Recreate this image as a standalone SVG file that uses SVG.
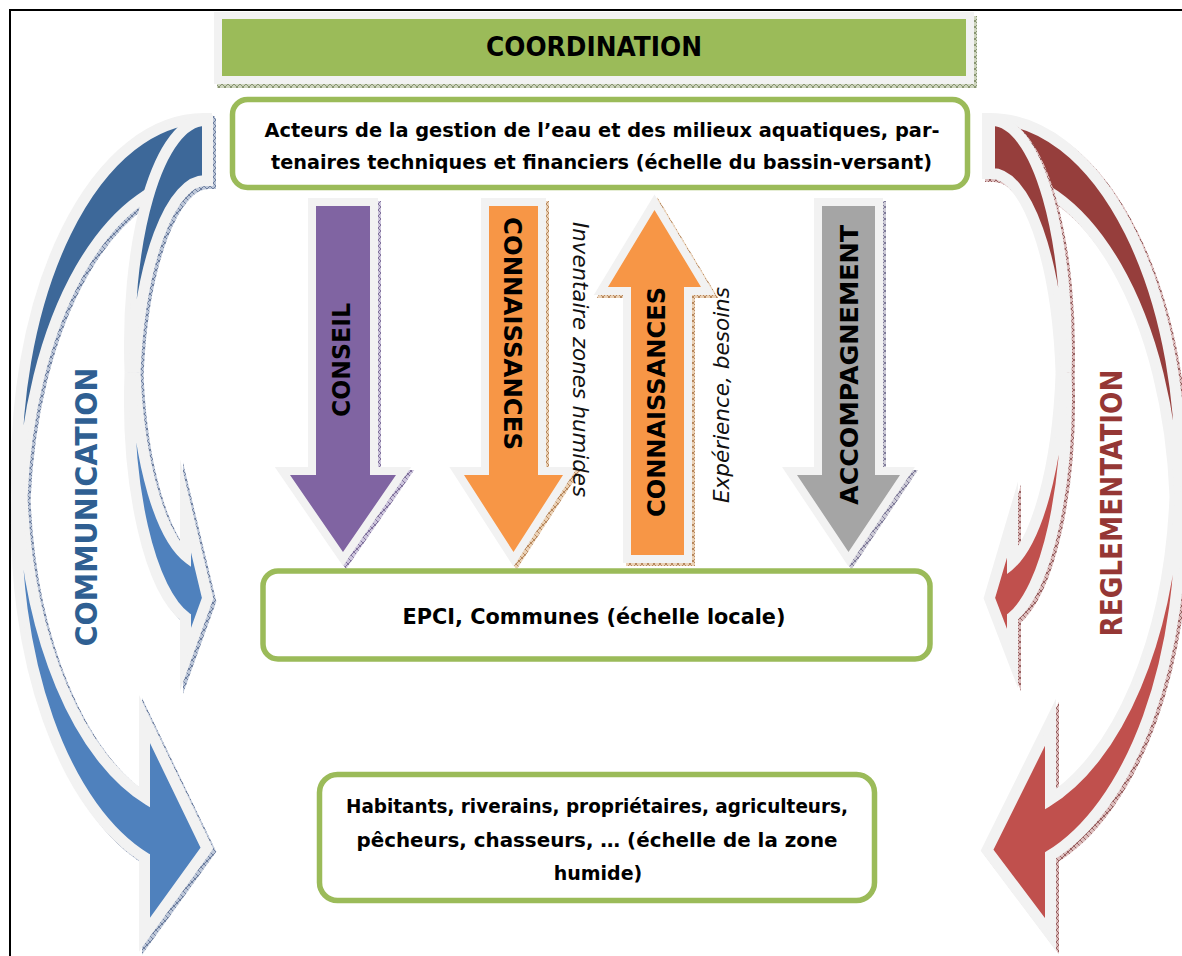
<svg xmlns="http://www.w3.org/2000/svg" width="1182" height="956" viewBox="0 0 1182 956">
<defs>
<style>
.ol{fill:#f2f2f2;stroke:#f2f2f2;stroke-width:16;stroke-linejoin:miter;stroke-miterlimit:20}
.tp{stroke:#f2f2f2;stroke-width:6;stroke-linejoin:miter;stroke-miterlimit:20}
.sh{stroke-width:16;stroke-linejoin:miter;stroke-miterlimit:20}
.box{fill:#ffffff;stroke:#9bbb59;stroke-width:5.5}
.bt{font-family:"DejaVu Sans","Liberation Sans",sans-serif;font-weight:bold;fill:#000000;text-anchor:middle}
.it{font-family:"DejaVu Sans","Liberation Sans",sans-serif;font-style:italic;fill:#111111;text-anchor:middle}
</style>
<pattern id="hb" width="6" height="6" patternUnits="userSpaceOnUse"><rect width="6" height="6" fill="#bcc6d8"/><path d="M0,0L6,6M6,0L0,6" stroke="#4a5f85" stroke-width="0.7"/></pattern>
<pattern id="hr" width="6" height="6" patternUnits="userSpaceOnUse"><rect width="6" height="6" fill="#dcbcbc"/><path d="M0,0L6,6M6,0L0,6" stroke="#7a3a3a" stroke-width="0.7"/></pattern>
<pattern id="ho" width="6" height="6" patternUnits="userSpaceOnUse"><rect width="6" height="6" fill="#ead0b4"/><path d="M0,0L6,6M6,0L0,6" stroke="#a0683a" stroke-width="0.7"/></pattern>
<pattern id="hp" width="6" height="6" patternUnits="userSpaceOnUse"><rect width="6" height="6" fill="#ccc4dc"/><path d="M0,0L6,6M6,0L0,6" stroke="#5e4d80" stroke-width="0.7"/></pattern>
<pattern id="hg" width="6" height="6" patternUnits="userSpaceOnUse"><rect width="6" height="6" fill="#cccad6"/><path d="M0,0L6,6M6,0L0,6" stroke="#5e5a80" stroke-width="0.7"/></pattern>
<pattern id="hgr" width="6" height="6" patternUnits="userSpaceOnUse"><rect width="6" height="6" fill="#cdd4bd"/><path d="M0,0L6,6M6,0L0,6" stroke="#6a7a50" stroke-width="0.7"/></pattern>
</defs>

<rect width="1182" height="956" fill="#ffffff"/>
<g id="frame"><path d="M10,956 V10 H1182" fill="none" stroke="#000000" stroke-width="2"/></g>

<g id="connectors">
  <!-- COMMUNICATION outer (B) -->
  <g id="communication-outer">
    <g class="sh" transform="translate(3,3)" fill="url(#hb)" stroke="url(#hb)">
      <path d="M204,121 A185,349 0 0 0 19.55,497 A185,349 0 0 1 204,175 Z"/>
      <path d="M19.55,497 A185,349 0 0 0 147,856 L147,927 L204,848 L147,730 L147,802 A185,349 0 0 1 19.55,497 Z"/>
    </g>
    <path class="ol" d="M204,121 A185,349 0 0 0 19.55,497 A185,349 0 0 1 204,175 Z"/>
    <path class="ol" d="M19.55,497 A185,349 0 0 0 147,856 L147,927 L204,848 L147,730 L147,802 A185,349 0 0 1 19.55,497 Z"/>
    <path class="tp" fill="#3d6899" d="M204,121 A185,349 0 0 0 19.55,497 A185,349 0 0 1 204,175 Z"/>
    <path class="tp" fill="#4f81bd" d="M19.55,497 A185,349 0 0 0 147,856 L147,927 L204,848 L147,730 L147,802 A185,349 0 0 1 19.55,497 Z"/>
  </g>
  <!-- COMMUNICATION inner (A) -->
  <g id="communication-inner">
    <g class="sh" transform="translate(3,3)" fill="url(#hb)" stroke="url(#hb)">
      <path d="M205,123 A73,222 0 0 0 132.56,372.5 A73,222 0 0 1 205,178 Z"/>
      <path d="M132.56,372.5 A73,222 0 0 0 188,615.9 L188,645 L205,598 L188,527 L188,560.9 A73,222 0 0 1 132.56,372.5 Z"/>
    </g>
    <path class="ol" d="M205,123 A73,222 0 0 0 132.56,372.5 A73,222 0 0 1 205,178 Z"/>
    <path class="ol" d="M132.56,372.5 A73,222 0 0 0 188,615.9 L188,645 L205,598 L188,527 L188,560.9 A73,222 0 0 1 132.56,372.5 Z"/>
    <path class="tp" fill="#3d6899" d="M205,123 A73,222 0 0 0 132.56,372.5 A73,222 0 0 1 205,178 Z"/>
    <path class="tp" fill="#4f81bd" d="M132.56,372.5 A73,222 0 0 0 188,615.9 L188,645 L205,598 L188,527 L188,560.9 A73,222 0 0 1 132.56,372.5 Z"/>
  </g>
  <text class="bt" transform="translate(97,507) rotate(-90)" font-size="31" textLength="279" lengthAdjust="spacingAndGlyphs" style="fill:#2f5f92">COMMUNICATION</text>

  <!-- REGLEMENTATION outer (D) -->
  <g id="reglementation-outer">
    <g class="sh" transform="translate(3,3)" fill="url(#hr)" stroke="url(#hr)">
      <path d="M990,121 A188,350 0 0 1 1177.52,496 A188,350 0 0 0 990,171 Z"/>
      <path d="M1177.52,496 A188,350 0 0 1 1048,853.9 L1048,927 L990,850 L1048,733 L1048,803.9 A188,350 0 0 0 1177.52,496 Z"/>
    </g>
    <path class="ol" d="M990,121 A188,350 0 0 1 1177.52,496 A188,350 0 0 0 990,171 Z"/>
    <path class="ol" d="M1177.52,496 A188,350 0 0 1 1048,853.9 L1048,927 L990,850 L1048,733 L1048,803.9 A188,350 0 0 0 1177.52,496 Z"/>
    <path class="tp" fill="#963e3c" d="M990,121 A188,350 0 0 1 1177.52,496 A188,350 0 0 0 990,171 Z"/>
    <path class="tp" fill="#c0504d" d="M1177.52,496 A188,350 0 0 1 1048,853.9 L1048,927 L990,850 L1048,733 L1048,803.9 A188,350 0 0 0 1177.52,496 Z"/>
  </g>
  <!-- REGLEMENTATION inner (C) -->
  <g id="reglementation-inner">
    <g class="sh" transform="translate(3,3)" fill="url(#hr)" stroke="url(#hr)">
      <path d="M992,123 A72,226 0 0 1 1063.59,373 A72,226 0 0 0 992,171 Z"/>
      <path d="M1063.59,373 A72,226 0 0 1 1010,615.8 L1010,645 L992,598 L1010,537 L1010,567.8 A72,226 0 0 0 1063.59,373 Z"/>
    </g>
    <path class="ol" d="M992,123 A72,226 0 0 1 1063.59,373 A72,226 0 0 0 992,171 Z"/>
    <path class="ol" d="M1063.59,373 A72,226 0 0 1 1010,615.8 L1010,645 L992,598 L1010,537 L1010,567.8 A72,226 0 0 0 1063.59,373 Z"/>
    <path class="tp" fill="#963e3c" d="M992,123 A72,226 0 0 1 1063.59,373 A72,226 0 0 0 992,171 Z"/>
    <path class="tp" fill="#c0504d" d="M1063.59,373 A72,226 0 0 1 1010,615.8 L1010,645 L992,598 L1010,537 L1010,567.8 A72,226 0 0 0 1063.59,373 Z"/>
  </g>
  <text class="bt" transform="translate(1122,503) rotate(-90)" font-size="31" textLength="267" lengthAdjust="spacingAndGlyphs" style="fill:#953735">REGLEMENTATION</text>

  <!-- CONSEIL -->
  <g id="arrow-conseil">
    <path class="sh" transform="translate(3,3)" fill="url(#hp)" stroke="url(#hp)" d="M316,206 H370 V475 H396 L343,552 L290,475 H316 Z"/>
    <path class="ol" d="M316,206 H370 V475 H396 L343,552 L290,475 H316 Z"/>
    <path fill="#8064a2" d="M316,206 H370 V475 H396 L343,552 L290,475 H316 Z"/>
    <text class="bt" transform="translate(350,360) rotate(-90)" font-size="24" textLength="114" lengthAdjust="spacingAndGlyphs">CONSEIL</text>
  </g>
  <!-- CONNAISSANCES down -->
  <g id="arrow-connaissances-down">
    <path class="sh" transform="translate(3,3)" fill="url(#ho)" stroke="url(#ho)" d="M489,206 H538 V475 H563 L513.5,552 L464,475 H489 Z"/>
    <path class="ol" d="M489,206 H538 V475 H563 L513.5,552 L464,475 H489 Z"/>
    <path fill="#f79646" d="M489,206 H538 V475 H563 L513.5,552 L464,475 H489 Z"/>
    <text class="bt" transform="translate(504,333.5) rotate(90)" font-size="24.5" textLength="233" lengthAdjust="spacingAndGlyphs">CONNAISSANCES</text>
  </g>
  <text class="it" transform="translate(573,359.5) rotate(90)" font-size="21.3" textLength="275" lengthAdjust="spacingAndGlyphs">Inventaire zones humides</text>
  <!-- CONNAISSANCES up -->
  <g id="arrow-connaissances-up">
    <path class="sh" transform="translate(3,3)" fill="url(#ho)" stroke="url(#ho)" d="M631,555 H684 V287 H701 L654.5,210 L608,287 H631 Z"/>
    <path class="ol" d="M631,555 H684 V287 H701 L654.5,210 L608,287 H631 Z"/>
    <path fill="#f79646" d="M631,555 H684 V287 H701 L654.5,210 L608,287 H631 Z"/>
    <text class="bt" transform="translate(665,402) rotate(-90)" font-size="24.5" textLength="230" lengthAdjust="spacingAndGlyphs">CONNAISSANCES</text>
  </g>
  <text class="it" transform="translate(729,395) rotate(-90)" font-size="21.5" textLength="216" lengthAdjust="spacingAndGlyphs">Expérience, besoins</text>
  <!-- ACCOMPAGNEMENT -->
  <g id="arrow-accompagnement">
    <path class="sh" transform="translate(3,3)" fill="url(#hg)" stroke="url(#hg)" d="M822,206 H875 V475 H900 L848.5,552 L797,475 H822 Z"/>
    <path class="ol" d="M822,206 H875 V475 H900 L848.5,552 L797,475 H822 Z"/>
    <path fill="#a5a5a5" d="M822,206 H875 V475 H900 L848.5,552 L797,475 H822 Z"/>
    <text class="bt" transform="translate(858,365) rotate(-90)" font-size="24.5" textLength="280" lengthAdjust="spacingAndGlyphs">ACCOMPAGNEMENT</text>
  </g>
</g>

<g id="coordination">
  <rect x="217" y="16" width="760" height="72" fill="url(#hgr)"/>
  <rect x="214" y="12" width="760" height="72" fill="#f2f2f2"/>
  <rect x="222" y="19" width="744" height="57" fill="#9bbb59"/>
  <text class="bt" x="594" y="56" font-size="26" textLength="216" lengthAdjust="spacingAndGlyphs">COORDINATION</text>
</g>

<g id="acteurs">
  <rect class="box" x="232.5" y="99.5" width="735" height="88" rx="15"/>
  <text class="bt" x="602" y="137" font-size="19.5" textLength="675" lengthAdjust="spacingAndGlyphs">Acteurs de la gestion de l’eau et des milieux aquatiques, par-</text>
  <text class="bt" x="601.5" y="169" font-size="19.5" textLength="661" lengthAdjust="spacingAndGlyphs">tenaires techniques et financiers (échelle du bassin-versant)</text>
</g>

<g id="epci">
  <rect class="box" x="263" y="571" width="667" height="88" rx="15"/>
  <text class="bt" x="594" y="624" font-size="20.5" textLength="383" lengthAdjust="spacingAndGlyphs">EPCI, Communes (échelle locale)</text>
</g>

<g id="habitants">
  <rect class="box" x="319.5" y="774.5" width="555" height="126" rx="18"/>
  <text class="bt" x="597" y="813" font-size="19" textLength="502" lengthAdjust="spacingAndGlyphs">Habitants, riverains, propriétaires, agriculteurs,</text>
  <text class="bt" x="597" y="847" font-size="19" textLength="481" lengthAdjust="spacingAndGlyphs">pêcheurs, chasseurs, … (échelle de la zone</text>
  <text class="bt" x="598" y="880" font-size="19">humide)</text>
</g>
</svg>
